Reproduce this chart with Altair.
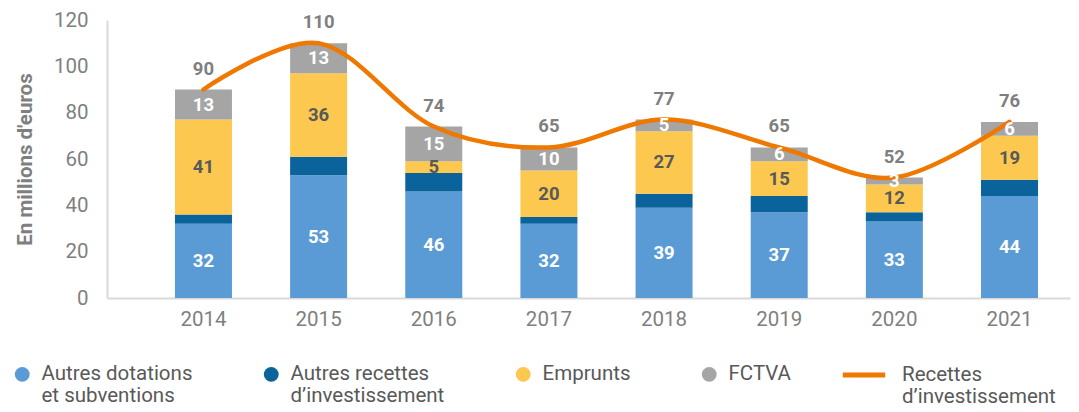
import altair as alt
import pandas as pd

years = ["2014", "2015", "2016", "2017", "2018", "2019", "2020", "2021"]
autres_dotations = [32, 53, 46, 32, 39, 37, 33, 44]
autres_recettes = [4, 8, 8, 3, 6, 7, 4, 7]
emprunts = [41, 36, 5, 20, 27, 15, 12, 19]
fctva = [13, 13, 15, 10, 5, 6, 3, 6]
totals = [90, 110, 74, 65, 77, 65, 52, 76]

series_names = ["Autres dotations|et subventions", "Autres recettes|d’investissement", "Emprunts| ", "FCTVA| "]
series_colors = ["#5B9BD5", "#0B639C", "#FDC850", "#A5A5A5"]
line_name = "Recettes|d’investissement"
line_color = "#EF7800"

series_values = [autres_dotations, autres_recettes, emprunts, fctva]
rows = []
for i, yr in enumerate(years):
    for k, name in enumerate(series_names):
        rows.append({"year": yr, "serie": name, "order": k, "value": series_values[k][i]})
df = pd.DataFrame(rows)
df_tot = pd.DataFrame({"year": years, "total": totals, "serie": [line_name] * len(years)})

FONT = "Roboto"

xscale = alt.Scale(paddingInner=0.505, paddingOuter=0.434, align=0.68)
yscale = alt.Scale(domain=[0, 120])

x_enc = alt.X("year:N", scale=xscale, sort=years,
              axis=alt.Axis(title=None, labelAngle=0, labelFontSize=20.5, labelColor="#7f7f7f",
                            labelFont=FONT, ticks=False, labelPadding=11,
                            domainColor="#d9d9d9", domainWidth=2))

bars = alt.Chart(df).mark_bar().encode(
    x=x_enc,
    y=alt.Y("value:Q", stack="zero", scale=yscale,
            axis=alt.Axis(title="En millions d'euros", values=[0, 20, 40, 60, 80, 100, 120],
                          grid=False, ticks=False, labelFontSize=20.5, labelColor="#7f7f7f",
                          labelFont=FONT, labelPadding=19, domainColor="#d9d9d9", domainWidth=2,
                          titleFontSize=20.5, titleFont=FONT, titleFontWeight="bold",
                          titleColor="#7f7f7f", titlePadding=18)),
    color=alt.Color("serie:N", scale=alt.Scale(domain=series_names, range=series_colors),
                    legend=alt.Legend(orient="none", legendX=-95, legendY=344, direction="horizontal",
                                      columns=4, title=None, symbolType="circle", symbolSize=220,
                                      symbolStrokeWidth=0, labelFont=FONT, labelFontSize=20.5,
                                      labelColor="#595959", labelExpr="split(datum.label, '|')",
                                      columnPadding=68, labelOffset=9, labelLimit=400)),
    order=alt.Order("order:Q"),
)

line = alt.Chart(df_tot).mark_line(interpolate="cardinal", strokeWidth=4.5, strokeCap="round").encode(
    x=alt.X("year:N", sort=years),
    y=alt.Y("total:Q"),
    stroke=alt.Stroke("serie:N", scale=alt.Scale(domain=[line_name], range=[line_color]),
                      legend=alt.Legend(orient="none", legendX=733, legendY=331, title=None,
                                        symbolType="stroke", symbolSize=1800, symbolStrokeWidth=5,
                                        labelFont=FONT, labelFontSize=20.5, labelColor="#595959",
                                        labelExpr="split(datum.label, '|')", labelOffset=14,
                                        labelLimit=400)),
)

seg_labels = alt.Chart(df).transform_stack(
    stack="value", groupby=["year"], sort=[alt.SortField("order")], as_=["v0", "v1"]
).transform_calculate(
    mid="(datum.v0 + datum.v1) / 2"
).transform_filter("datum.order != 1").mark_text(
    font=FONT, fontSize=18.5, fontWeight="bold", baseline="middle"
).encode(
    x=alt.X("year:N", sort=years),
    y=alt.Y("mid:Q"),
    text=alt.Text("value:Q", format=".0f"),
    color=alt.condition("datum.order == 2", alt.value("#595959"), alt.value("#ffffff")),
)

tot_labels = alt.Chart(df_tot).mark_text(
    font=FONT, fontSize=18.5, fontWeight="bold", baseline="middle", dy=-21, color="#7f7f7f"
).encode(
    x=alt.X("year:N", sort=years),
    y=alt.Y("total:Q"),
    text=alt.Text("total:Q", format=".0f"),
)

chart = alt.layer(bars, line, seg_labels, tot_labels).resolve_legend(
    color="independent", stroke="independent"
).properties(
    width=963, height=278,
    autosize=alt.AutoSizeParams(type="none"),
    padding={"left": 99, "top": 12, "right": 1, "bottom": 106},
).configure(
    font=FONT,
    view=alt.ViewConfig(stroke=None),
    style={"guide-label": {"lineHeight": 22}},
)

chart.save("out.html", embed_options={"renderer": "svg", "actions": False})
